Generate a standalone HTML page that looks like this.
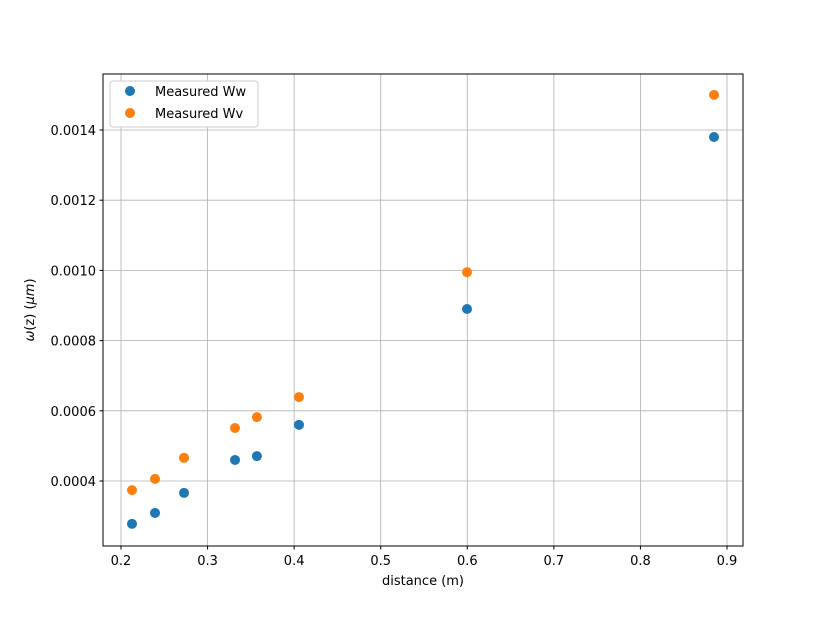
<!DOCTYPE html>
<html><head><meta charset="utf-8"><style>
body{margin:0;background:#fff;}
svg text{font-family:"DejaVu Sans","Liberation Sans",sans-serif;font-size:13px;fill:#000;}
</style></head><body>
<svg id="chart" width="826" height="613" xmlns="http://www.w3.org/2000/svg">
<rect width="826" height="613" fill="#fff"/>
<g id="grid"></g><g id="ticks"></g><g id="marks"></g>
<rect x="103" y="74" width="640" height="472" fill="none" stroke="#000" stroke-width="1"/>
<text x="423" y="585" text-anchor="middle">distance (m)</text>
<text transform="translate(34,310) rotate(-90)" text-anchor="middle"><tspan font-style="italic">ω</tspan>(z) (<tspan font-style="italic">μm</tspan>)</text>
<g>
<rect x="110" y="81" width="148" height="46" rx="3" fill="#fff" stroke="#ccc"/>
<circle cx="130" cy="91" r="5" fill="#1f77b4"/>
<text x="155" y="96">Measured Ww</text>
<circle cx="130" cy="113" r="5" fill="#ff7f0e"/>
<text x="155" y="118">Measured Wv</text>
</g>
</svg>
<script>
const distances=[0.2127,0.2393,0.2728,0.3317,0.357,0.4056,0.5997,0.885];
const ww=[0.000278,0.000309,0.000366,0.00046,0.000471,0.00056,0.00089,0.00138];
const wv=[0.000374,0.000406,0.000466,0.000551,0.000582,0.000639,0.000995,0.0015];
const xTicks=[0.2,0.3,0.4,0.5,0.6,0.7,0.8,0.9];
const yTicks=[0.0004,0.0006,0.0008,0.0010,0.0012,0.0014];
const yTickLabels=["0.0004","0.0006","0.0008","0.0010","0.0012","0.0014"];
const X=v=>121+(v-0.2)/0.7*606;
const Y=v=>481-(v-0.0004)/0.001*351;
const NS="http://www.w3.org/2000/svg";
const grid=document.getElementById('grid'),ticks=document.getElementById('ticks'),marks=document.getElementById('marks');
function mk(tag,attrs,parent){const e=document.createElementNS(NS,tag);for(const k in attrs)e.setAttribute(k,attrs[k]);parent.appendChild(e);return e;}
xTicks.forEach(t=>{const x=X(t);
 const g=mk('line',{x1:x,x2:x,y1:74,y2:546,stroke:'#b0b0b0','stroke-width':0.8},grid);
 
 
 mk('line',{x1:x,x2:x,y1:546,y2:549.5,stroke:'#000'},ticks);
 const tx=mk('text',{x:x,y:565,'text-anchor':'middle'},ticks);tx.textContent=t.toFixed(1);
 
 
});
yTicks.forEach((t,i)=>{const y=Y(t);
 const g=mk('line',{x1:103,x2:743,y1:y,y2:y,stroke:'#b0b0b0','stroke-width':0.8},grid);
 
 
 mk('line',{x1:99.5,x2:103,y1:y,y2:y,stroke:'#000'},ticks);
 const tx=mk('text',{x:96,y:y+5,'text-anchor':'end'},ticks);tx.textContent=yTickLabels[i];
 
 
});
distances.forEach((d,i)=>{
 const a=mk('circle',{cx:X(d),cy:Y(ww[i]),r:5,fill:'#1f77b4'},marks);
 
 
 const b=mk('circle',{cx:X(d),cy:Y(wv[i]),r:5,fill:'#ff7f0e'},marks);
 
 
});
</script>
</body></html>
